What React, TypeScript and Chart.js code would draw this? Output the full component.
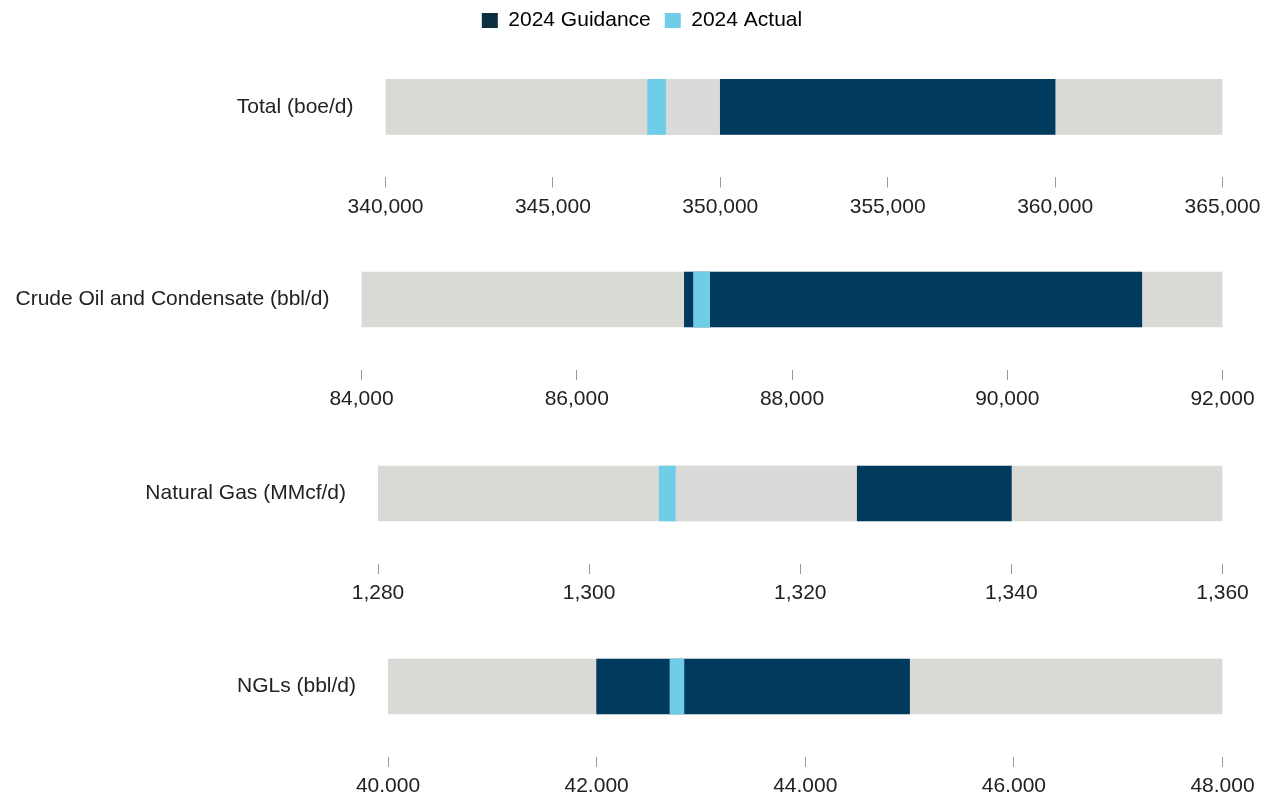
import React, { useEffect, useRef } from 'react';
import { Chart, registerables } from 'chart.js';

Chart.register(...registerables);

// ---------------- data ----------------
const categories = [
  'Total (boe/d)',
  'Crude Oil and Condensate (bbl/d)',
  'Natural Gas (MMcf/d)',
  'NGLs (bbl/d)',
];
const axisMin = [340000, 84000, 1280, 40000];
const axisMax = [365000, 92000, 1360, 48000];
const axisStep = [5000, 2000, 20, 2000];
const guidanceLow = [350000, 87000, 1325.4, 42000];
const guidanceHigh = [360000, 91250, 1340, 45000];
const actualValues = [348100, 87160, 1307.4, 42770];
const actualMarkerHalf = [270, 75, 0.76, 67];
const legendLabels = ['2024 Guidance', '2024 Actual'];

// ---------------- style ----------------
const COLORS = {
  range: '#d9d9d6',
  gap: '#dadada',
  guidance: '#003a5d',
  actual: '#6fcde8',
  legendGuidance: '#0b2f3f',
  legendActual: '#6fcde8',
  text: '#222222',
  tick: '#999999',
};
const FONT_FAMILY = "'Liberation Sans', Arial, Helvetica, sans-serif";
const FONT_SIZE = 21;
const RIGHT_PAD = 41.5;

const panelLayout = [
  { height: 233, marginTop: -12, legend: true, legendHeight: 40.4, padLeft: 12, yWidth: 365.5, xAxisHeight: 51.6 },
  { height: 194, marginTop: 0, legend: false, legendHeight: 0, padLeft: 0, yWidth: 353.5, xAxisHeight: 53 },
  { height: 193, marginTop: 0, legend: false, legendHeight: 0, padLeft: 0, yWidth: 370, xAxisHeight: 52 },
  { height: 184, marginTop: 0, legend: false, legendHeight: 0, padLeft: 0, yWidth: 380, xAxisHeight: 43 },
];

if (typeof document !== 'undefined') {
  document.documentElement.style.overflow = 'hidden';
}

function Panel({ index }: { index: number }) {
  const ref = useRef<HTMLCanvasElement | null>(null);

  useEffect(() => {
    if (!ref.current) return;
    const layout = panelLayout[index];
    const a = actualValues[index];
    const lo = guidanceLow[index];
    const hi = guidanceHigh[index];
    const h = actualMarkerHalf[index];
    const font = { family: FONT_FAMILY, size: FONT_SIZE };

    const chart = new Chart(ref.current, {
      type: 'bar',
      data: {
        labels: [categories[index]],
        datasets: [
          {
            label: 'Range',
            data: [[axisMin[index], axisMax[index]]] as any,
            backgroundColor: COLORS.range,
            order: 4,
          },
          {
            label: 'Gap',
            data: [a < lo ? [a, lo] : null] as any,
            backgroundColor: COLORS.gap,
            order: 3,
          },
          {
            label: legendLabels[0],
            data: [[lo, hi]] as any,
            backgroundColor: COLORS.guidance,
            order: 2,
          },
          {
            label: legendLabels[1],
            data: [[a - h, a + h]] as any,
            backgroundColor: COLORS.actual,
            order: 1,
          },
        ],
      },
      options: {
        animation: false,
        responsive: true,
        maintainAspectRatio: false,
        indexAxis: 'y',
        events: [],
        layout: { padding: { left: layout.padLeft, right: 0, top: 0, bottom: 0 } },
        datasets: {
          bar: { grouped: false, barThickness: 55, borderWidth: 0, borderSkipped: false } as any,
        },
        scales: {
          x: {
            type: 'linear',
            position: 'bottom',
            min: axisMin[index],
            max: axisMax[index],
            ticks: {
              stepSize: axisStep[index],
              color: COLORS.text,
              font,
              padding: 7,
              maxRotation: 0,
              autoSkip: false,
              callback: (v: any) => Number(v).toLocaleString('en-US'),
            },
            grid: {
              display: true,
              drawOnChartArea: false,
              drawTicks: true,
              tickLength: 10,
              color: COLORS.tick,
              lineWidth: 1,
            },
            border: { display: false },
            afterFit: (s: any) => {
              s.height = layout.xAxisHeight;
              s.paddingRight = RIGHT_PAD;
              s.paddingLeft = 0;
            },
          },
          y: {
            type: 'category',
            ticks: { color: COLORS.text, font, padding: 32 },
            grid: { display: false, drawTicks: false },
            border: { display: false },
            afterFit: (s: any) => {
              s.width = layout.yWidth;
              s.paddingTop = 0;
              s.paddingBottom = 0;
            },
          },
        },
        plugins: {
          legend: {
            display: layout.legend,
            position: 'top',
            align: 'center',
            maxHeight: layout.legendHeight || undefined,
            labels: {
              boxWidth: 16,
              boxHeight: 15,
              padding: 14,
              color: COLORS.text,
              font,
              generateLabels: () =>
                legendLabels.map((text, i) => ({
                  text,
                  fillStyle: i === 0 ? COLORS.legendGuidance : COLORS.legendActual,
                  strokeStyle: i === 0 ? COLORS.legendGuidance : COLORS.legendActual,
                  lineWidth: 0,
                  hidden: false,
                  datasetIndex: i + 2,
                })),
            },
          },
          tooltip: { enabled: false },
        },
      } as any,
    });

    return () => chart.destroy();
  }, [index]);

  const layout = panelLayout[index];
  return (
    <div
      style={{
        position: 'relative',
        width: '100%',
        height: layout.height,
        marginTop: layout.marginTop,
      }}
    >
      <canvas ref={ref} />
    </div>
  );
}

export default function App() {
  return (
    <div style={{ height: 792, marginBottom: -8, overflow: 'hidden', background: '#ffffff' }}>
      {categories.map((_, i) => (
        <Panel key={i} index={i} />
      ))}
    </div>
  );
}
